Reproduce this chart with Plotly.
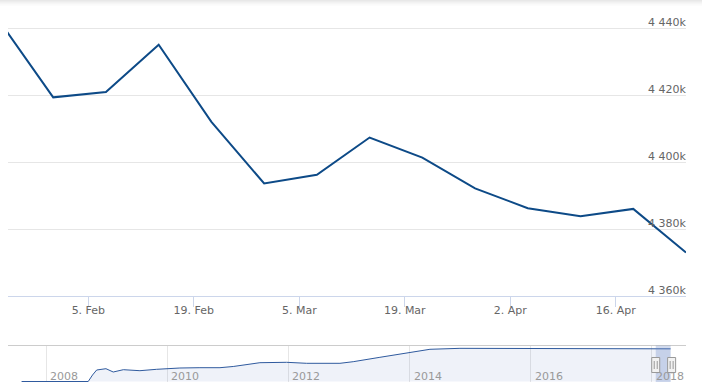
import plotly.graph_objects as go

# ---- main series (weekly) ----
dates = ["2018-01-24 08:00", "2018-01-31 08:00", "2018-02-07 08:00", "2018-02-14 08:00",
         "2018-02-21 08:00", "2018-02-28 08:00", "2018-03-07 08:00", "2018-03-14 08:00",
         "2018-03-21 08:00", "2018-03-28 08:00", "2018-04-04 08:00", "2018-04-11 08:00",
         "2018-04-18 08:00", "2018-04-25 08:00"]
values = [4441600, 4419300, 4420900, 4435000, 4412000, 4393600, 4396200, 4407300,
          4401300, 4392100, 4386200, 4383800, 4386000, 4373000]

x_ticks = ["2018-02-05", "2018-02-19", "2018-03-05", "2018-03-19", "2018-04-02", "2018-04-16"]
x_tick_labels = ["5. Feb", "19. Feb", "5. Mar", "19. Mar", "2. Apr", "16. Apr"]
y_ticks = [4360000, 4380000, 4400000, 4420000, 4440000]
y_tick_labels = ["4 360k", "4 380k", "4 400k", "4 420k", "4 440k"]

# ---- navigator series (whole history) ----
nav_dates = ["2007-08-05", "2008-09-10", "2008-10-06", "2008-10-31", "2008-12-26",
             "2009-02-08", "2009-04-10", "2009-07-19", "2009-10-28", "2010-03-17",
             "2010-07-16", "2010-11-14", "2011-02-02", "2011-07-13", "2011-12-21",
             "2012-04-20", "2012-11-07", "2013-01-26", "2013-07-06", "2014-01-03",
             "2014-05-04", "2014-11-01", "2015-07-01", "2016-06-27", "2017-06-24",
             "2018-01-24", "2018-02-14", "2018-03-14", "2018-04-25"]
nav_values = [0, 0, 870000, 1540000, 1714000,
              1272000, 1580000, 1446000, 1634000, 1808000,
              1848000, 1848000, 2009000, 2517000, 2571000,
              2437000, 2437000, 2651000, 3240000, 3910000,
              4312000, 4440000, 4445000, 4440000, 4430000,
              4441600, 4435000, 4407300, 4373000]

nav_years = ["2008-01-01", "2010-01-01", "2012-01-01", "2014-01-01", "2016-01-01", "2018-01-01"]
nav_year_labels = ["2008", "2010", "2012", "2014", "2016", "2018"]

sel_start = "2018-01-25 08:00"
sel_end = "2018-04-25 08:00"

W, H = 702, 382
ML, MR, MT, MB = 8, 16, 10, 0
PH = H - MT - MB
PX_PER_UNIT = (296 - 28) / 80000.0  # px per value unit in main plot


def py(px):
    return (H - MB - px) / PH


LINE = "#0d4a87"
FONT = "DejaVu Sans"

fig = go.Figure()
fig.add_trace(go.Scatter(x=dates, y=values, mode="lines",
                         line=dict(color=LINE, width=2), xaxis="x", yaxis="y",
                         hoverinfo="skip"))
fig.add_trace(go.Scatter(x=nav_dates, y=nav_values, mode="lines",
                         line=dict(color="#2f5a9e", width=1),
                         fill="tozeroy", fillcolor="rgba(51,92,173,0.08)",
                         xaxis="x2", yaxis="y2", hoverinfo="skip"))

shapes = []
# top shadow
for i, a in enumerate([0.09, 0.07, 0.05, 0.035, 0.02, 0.01]):
    shapes.append(dict(type="rect", xref="paper", yref="paper",
                       x0=-ML / (W - ML - MR), x1=1 + MR / (W - ML - MR),
                       y0=py(i + 1), y1=py(i), fillcolor=f"rgba(0,0,0,{a})",
                       line=dict(width=0), layer="above"))
# navigator outline (top)
shapes.append(dict(type="line", xref="paper", yref="paper", x0=0, x1=1,
                   y0=py(345.5), y1=py(345.5), line=dict(color="#cccccc", width=1)))
# selection mask
shapes.append(dict(type="rect", xref="x2", yref="paper", x0=sel_start, x1=sel_end,
                   y0=0, y1=py(345.5), fillcolor="rgba(102,133,194,0.3)",
                   line=dict(width=0), layer="above"))
# handles
for anchor, off in [(sel_start, 0), (sel_end, 1)]:
    shapes.append(dict(type="rect", xref="x2", yref="paper", xsizemode="pixel",
                       xanchor=anchor, x0=-4 + off, x1=4 + off,
                       y0=py(372.5), y1=py(357.5), fillcolor="#f2f2f2",
                       line=dict(color="#999999", width=1), layer="above"))
    for dx in (-1.5, 1.5):
        shapes.append(dict(type="line", xref="x2", yref="paper", xsizemode="pixel",
                           xanchor=anchor, x0=dx + off, x1=dx + off,
                           y0=py(369), y1=py(361),
                           line=dict(color="#999999", width=1), layer="above"))

annotations = []
# y-axis labels (right aligned, sitting above their grid lines)
for v, t in zip(y_ticks, y_tick_labels):
    annotations.append(dict(xref="paper", yref="y", x=1, y=v, text=t,
                            xanchor="right", yanchor="bottom", xshift=1, yshift=-2,
                            showarrow=False, borderpad=0,
                            font=dict(family=FONT, size=11, color="#666666")))
# navigator year labels (to the right of year grid lines)
for d, t in zip(nav_years, nav_year_labels):
    annotations.append(dict(xref="x2", yref="paper", x=d, y=0, text=t,
                            xanchor="left", yanchor="bottom", xshift=3, yshift=-2,
                            showarrow=False, borderpad=0,
                            font=dict(family=FONT, size=11, color="#999999")))

y_top = 4440000 + (28 - MT) / PX_PER_UNIT

fig.update_layout(
    width=W, height=H,
    margin=dict(l=ML, r=MR, t=MT, b=MB, autoexpand=False),
    paper_bgcolor="white", plot_bgcolor="white",
    showlegend=False,
    font=dict(family=FONT, size=11, color="#666666"),
    xaxis=dict(domain=[0, 1], anchor="y", type="date", automargin=False,
               range=[sel_start, sel_end],
               tickvals=x_ticks, ticktext=x_tick_labels,
               showgrid=False, zeroline=False,
               showline=True, linecolor="#ccd6eb", linewidth=1,
               ticks="outside", ticklen=10, tickcolor="#ccd6eb", tickwidth=1,
               ticklabelstandoff=-6,
               tickfont=dict(family=FONT, size=11, color="#666666")),
    yaxis=dict(domain=[py(296), 1], anchor="x", side="right", automargin=False,
               range=[4360000, y_top],
               tickvals=y_ticks,
               showgrid=True, gridcolor="#e6e6e6", gridwidth=1,
               zeroline=False, showline=False, ticks="",
               showticklabels=False),
    xaxis2=dict(domain=[0, 1], anchor="y2", type="date", automargin=False,
                range=["2007-05-15", "2018-07-27"],
                tickvals=nav_years,
                showgrid=True, gridcolor="#e6e6e6", gridwidth=1,
                zeroline=False, showline=False, ticks="",
                showticklabels=False),
    yaxis2=dict(domain=[0, py(345)], anchor="x2", automargin=False,
                range=[-67000, 4887000],
                showgrid=False, zeroline=False, showline=False,
                showticklabels=False, ticks=""),
    shapes=shapes,
    annotations=annotations,
)

fig.write_html("out.html",
               config={"displayModeBar": False},
               post_script="document.body.style.margin='0';document.body.style.overflow='hidden';")
